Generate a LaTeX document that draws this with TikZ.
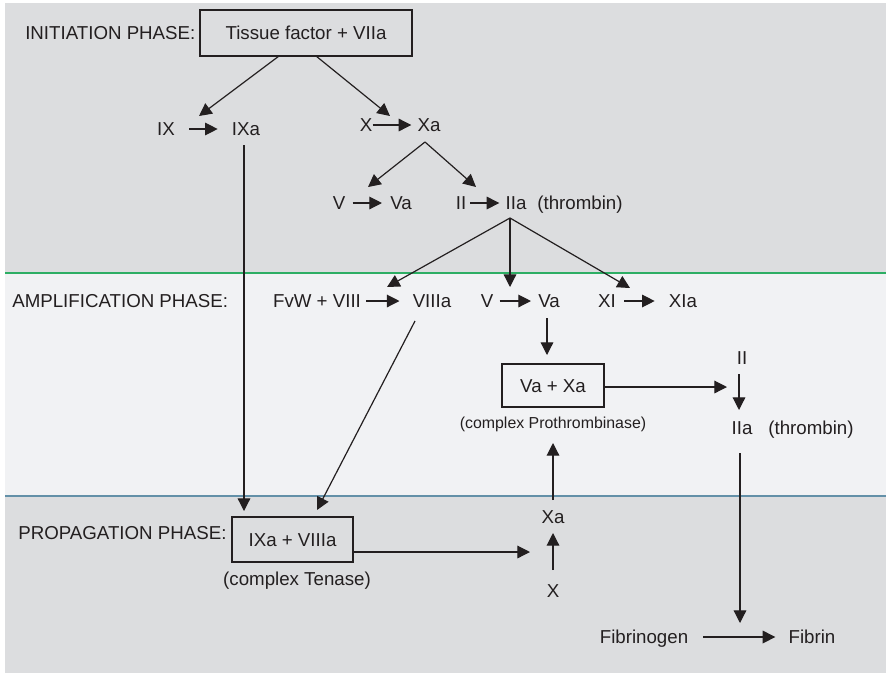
\documentclass[tikz,border=0pt]{standalone}
\usepackage{fontspec}
\setmainfont{Liberation Sans}
\usetikzlibrary{arrows.meta,calc}
\definecolor{bgdark}{HTML}{DCDDDF}
\definecolor{bglight}{HTML}{F1F2F4}
\definecolor{sepgreen}{HTML}{2DAE64}
\definecolor{sepblue}{HTML}{6390A8}
\definecolor{ink}{HTML}{231F20}
\begin{document}
\begin{tikzpicture}[x=0.025cm,y=-0.025cm,
  lbl/.style={inner sep=0pt, text height=9.5pt, text depth=0pt, font=\fontsize{13.3}{15}\selectfont, text=ink},
  sublbl/.style={inner sep=0pt, text height=8.1pt, text depth=0pt, font=\fontsize{11.3}{13}\selectfont, text=ink},
  cbox/.style={lbl, draw=ink, line width=0.85pt},
  arr/.style={draw=ink, line width=0.85pt, -{Triangle[length=9pt,width=9pt]}},
  sep/.style={line width=1.6pt}]
\useasboundingbox (0,0) rectangle (886,673);
% backgrounds
\fill[bgdark] (5,3) rectangle (886,273);
\fill[bglight] (5,273) rectangle (886,496);
\fill[bgdark] (5,496) rectangle (886,673);
\draw[sep, sepgreen] (5,273) -- (886,273);
\draw[sep, sepblue] (5,496) -- (886,496);

% phase labels
\node[lbl, anchor=west] (initL) at (25,33) {INITIATION PHASE:};
\node[lbl, anchor=west] (amplL) at (12,301) {AMPLIFICATION PHASE:};
\node[lbl, anchor=west] (propL) at (18,533) {PROPAGATION PHASE:};

% initiation
\node[cbox, minimum width=5.3cm, minimum height=1.15cm] (tf) at (306,33) {Tissue factor + VIIa};
\node[lbl] (IX) at (166,129) {IX};
\node[lbl] (IXa) at (246,129) {IXa};
\node[lbl] (X1) at (366,125) {X};
\node[lbl] (Xa1) at (429,125) {Xa};
\node[lbl] (V1) at (339,203) {V};
\node[lbl] (Va1) at (401,203) {Va};
\node[lbl] (II1) at (461,203) {II};
\node[lbl] (IIa1) at (516,203) {IIa};
\node[lbl] (thr1) at (580,203) {(thrombin)};

% amplification
\node[lbl] (FvW) at (317,301) {FvW + VIII};
\node[lbl] (VIIIa) at (432,301) {VIIIa};
\node[lbl] (V2) at (487,301) {V};
\node[lbl] (Va2) at (549,301) {Va};
\node[lbl] (XI) at (607,301) {XI};
\node[lbl] (XIa) at (683,301) {XIa};
\node[cbox, minimum width=2.55cm, minimum height=1.075cm] (vaxa) at (553,385.5) {Va + Xa};
\node[sublbl] (proth) at (553,423) {(complex Prothrombinase)};
\node[lbl] (II2) at (742,358) {II};
\node[lbl] (IIa2) at (742,428) {IIa};
\node[lbl] (thr2) at (811,428) {(thrombin)};

% propagation
\node[cbox, minimum width=3.025cm, minimum height=1.125cm] (ten) at (292.5,539.5) {IXa + VIIIa};
\node[lbl] (tenL) at (297,579) {(complex Tenase)};
\node[lbl] (Xa3) at (553,517) {Xa};
\node[lbl] (X3) at (553,591) {X};
\node[lbl] (fbg) at (644,637) {Fibrinogen};
\node[lbl] (fib) at (812,637) {Fibrin};

% coordinates for free ends
\coordinate (tfL) at (279,56);
\coordinate (tfR) at (316,56);
\coordinate (ixT) at (199,116);
\coordinate (xT) at (390,116);
\coordinate (xaApex) at (425,142);
\coordinate (vT) at (368,187);
\coordinate (iiT) at (476,187);
\coordinate (iiaApex) at (510,218);
\coordinate (fvwT) at (387,287);
\coordinate (v2T) at (510,287);
\coordinate (xiT) at (630,288);
\coordinate (ixaB) at (244,145);
\coordinate (tenT1) at (244,511);
\coordinate (viiiaB) at (415,321);
\coordinate (tenT2) at (317,510);
\coordinate (va2B) at (547,318);
\coordinate (vaxaT) at (547,355);
\coordinate (vaxaR) at (604,387);
\coordinate (iiR) at (727,387);
\coordinate (ii2B) at (739,374);
\coordinate (iia2T) at (739,410);
\coordinate (iia2B) at (740,453);
\coordinate (fibT) at (740,623);
\coordinate (tenR) at (353,552);
\coordinate (xaL) at (530,552);
\coordinate (xa3T) at (553,500);
\coordinate (vaxaB) at (553,443);
\coordinate (x3T) at (553,570);
\coordinate (xa3B) at (553,533);

% connectors
\draw[arr] (tfL) -- (ixT);
\draw[arr] (tfR) -- (xT);
\draw[arr] ([xshift=0.35cm]IX.east) -- ([xshift=-0.35cm]IXa.west);
\draw[arr] (X1.east) -- ([xshift=-0.15cm]Xa1.west);
\draw[arr] (xaApex) -- (vT);
\draw[arr] (xaApex) -- (iiT);
\draw[arr] ([xshift=0.175cm]V1.east) -- ([xshift=-0.2cm]Va1.west);
\draw[arr] ([xshift=0.1cm]II1.east) -- ([xshift=-0.15cm]IIa1.west);
\draw[arr] (iiaApex) -- (fvwT);
\draw[arr] (iiaApex) -- (v2T);
\draw[arr] (iiaApex) -- (xiT);
\draw[arr] ([xshift=0.125cm]FvW.east) -- ([xshift=-0.325cm]VIIIa.west);
\draw[arr] ([xshift=0.15cm]V2.east) -- ([xshift=-0.175cm]Va2.west);
\draw[arr] ([xshift=0.2cm]XI.east) -- ([xshift=-0.35cm]XIa.west);
\draw[arr] (ixaB) -- (tenT1);
\draw[arr] (viiiaB) -- (tenT2);
\draw[arr] (va2B) -- (vaxaT);
\draw[arr] (vaxaR) -- (iiR);
\draw[arr] (ii2B) -- (iia2T);
\draw[arr] (iia2B) -- (fibT);
\draw[arr] ([xshift=0.375cm]fbg.east) -- ([xshift=-0.325cm]fib.west);
\draw[arr] (tenR) -- (xaL);
\draw[arr] (xa3T) -- (vaxaB);
\draw[arr] (x3T) -- (xa3B);
\end{tikzpicture}
\end{document}
